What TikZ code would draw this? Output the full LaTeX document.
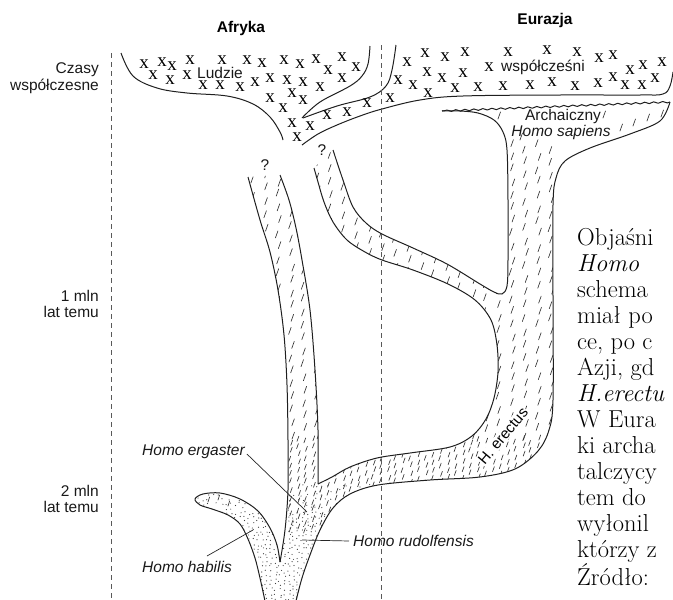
\documentclass[tikz,border=0pt]{standalone}
\usepackage{fontspec}
\newfontfamily\labfont{Liberation Sans}
\newfontfamily\xfont{Liberation Serif}
\usetikzlibrary{decorations.pathmorphing}
\begin{document}
\begin{tikzpicture}[x=1pt,y=-1pt,
  outline/.style={line width=1pt, draw=black!88, line join=round},
  hatch/.style={line width=0.65pt, draw=black!80, line cap=round},
  dotmark/.style={fill=black!75},
  vdash/.style={line width=0.8pt, draw=black!65, dash pattern=on 5pt off 4pt},
  lab/.style={font=\labfont\fontsize{15.5}{16.5}\selectfont, inner sep=0pt, text=black!90},
  labit/.style={font=\labfont\itshape\fontsize{15.5}{16.5}\selectfont, inner sep=0pt, text=black!90},
  titlelab/.style={font=\labfont\bfseries\fontsize{15.5}{17}\selectfont, inner sep=0pt},
  xm/.style={font=\xfont\fontsize{19}{19}\selectfont, inner sep=0pt},
  bodytext/.style={font=\fontsize{24.5}{26}\selectfont, inner sep=0pt, anchor=base west},
  leader/.style={line width=0.7pt, draw=black!85}
]
\useasboundingbox (0,0) rectangle (673,600);
\begin{scope}
\clip (0,0) rectangle (673,600);

% ---------- textures inside the Homo erectus / archaic region ----------
\begin{scope}
\clip plot[smooth,tension=0.55] coordinates {(248,177) (260,220) (270,252) (278,290) (284,335) (287,385) (288,440) (288,490) (285,530) (280,562)}
 -- plot[smooth,tension=0.55] coordinates {(280,562) (277,545) (270,528) (258,511) (240,499) (220,493) (203,494) (195,499) (200,505) (212,509) (228,515) (240,524) (248,539) (255,558) (260,578) (265,601)}
 -- (296,601)
 -- plot[smooth,tension=0.55] coordinates {(296,601) (302,578) (310,555) (320,530) (333,508) (350,494) (378,485) (430,480) (480,477) (515,469) (538,451) (549,430) (553,400) (553,300) (553,205) (556,178) (565,161) (590,148) (630,134) (660,121) (670,102)}
 -- (442,111)
 -- plot[smooth,tension=0.55] coordinates {(442,111) (460,111) (478,113) (494,120) (503,132) (507,150) (508,200) (508,260) (507,286) (502,294) (494,292) (480,284) (447,264) (413,248) (382,234) (366,223) (353,207) (343,180) (333,150)}
 -- (314,168)
 -- plot[smooth,tension=0.55] coordinates {(314,168) (318,182) (324,202) (333,222) (347,240) (365,252) (382,260) (413,270) (448,284) (475,300) (491,320) (497,345) (498,372) (494,398) (486,419) (472,436) (450,447) (410,453) (377,458) (350,467) (332,477) (318,484)}
 -- plot[smooth,tension=0.55] coordinates {(318,484) (318,430) (315,370) (310,310) (302,260) (296,228) (289,200) (280,175)}
 -- cycle;
\pgfmathsetseed{3}
% regular slashes
\foreach \gx [count=\ci] in {238,251,...,562}{
  \foreach \gy in {146,159,...,432}{
    \pgfmathsetmacro{\rx}{\gx+2*rand}
    \pgfmathsetmacro{\ry}{\gy+6.5*mod(\ci,2)+2*rand}
    \draw[hatch] (\rx,\ry) -- ++(2.5,-7);
  }
}
% dense short slashes (horizontal branch, ergaster)
\foreach \gx [count=\ci] in {290,297.5,...,560}{
  \foreach \gy in {440,448,...,530}{
    \pgfmathsetmacro{\rx}{\gx+1.5*rand}
    \pgfmathsetmacro{\ry}{\gy+4*mod(\ci,2)+1.5*rand}
    \draw[hatch] (\rx,\ry) -- ++(1.8,-5);
  }
}
% stipple
\foreach \gx in {190,194.5,...,400}{
  \foreach \gy in {486,490.5,...,600}{
    \pgfmathtruncatemacro{\keep}{((\gy>512) || (rnd<0.4)) ? 1 : 0}
    \ifnum\keep=1
      \pgfmathsetmacro{\rx}{\gx+1.6*rand}
      \pgfmathsetmacro{\ry}{\gy+1.6*rand}
      \fill[dotmark] (\rx,\ry) circle[radius=0.6];
    \fi
  }
}
% sparse slashes in the archaic band and at the habilis tip
\foreach \p in {(498,119),(603,118),(620,131),(633,126),(647,121),(661,117),(520,140)}
  \draw[hatch] \p -- ++(2.5,-7);
\foreach \p in {(208,502),(218,500),(228,506)}
  \draw[hatch] \p -- ++(1.6,-5);
\end{scope}

% ---------- outlines ----------
\draw[outline] plot[smooth,tension=0.55] coordinates {(248,177) (260,220) (270,252) (278,290) (284,335) (287,385) (288,440) (288,490) (285,530) (280,562)};
\draw[outline] plot[smooth,tension=0.55] coordinates {(280,562) (277,545) (270,528) (258,511) (240,499) (220,493) (203,494) (195,499) (200,505) (212,509) (228,515) (240,524) (248,539) (255,558) (260,578) (265,601)};
\draw[outline] plot[smooth,tension=0.55] coordinates {(296,601) (302,578) (310,555) (320,530) (333,508) (350,494) (378,485) (430,480) (480,477) (515,469) (538,451) (549,430) (553,400) (553,300) (553,205) (556,178) (565,161) (590,148) (630,134) (660,121) (670,102)};
\draw[outline, decorate, decoration={snake, amplitude=0.8pt, segment length=9pt}] (670,102) -- (442,111);
\draw[outline] plot[smooth,tension=0.55] coordinates {(442,111) (460,111) (478,113) (494,120) (503,132) (507,150) (508,200) (508,260) (507,286) (502,294) (494,292) (480,284) (447,264) (413,248) (382,234) (366,223) (353,207) (343,180) (333,150)};
\draw[outline] plot[smooth,tension=0.55] coordinates {(314,168) (318,182) (324,202) (333,222) (347,240) (365,252) (382,260) (413,270) (448,284) (475,300) (491,320) (497,345) (498,372) (494,398) (486,419) (472,436) (450,447) (410,453) (377,458) (350,467) (332,477) (318,484)};
\draw[outline] plot[smooth,tension=0.55] coordinates {(318,484) (318,430) (315,370) (310,310) (302,260) (296,228) (289,200) (280,175)};

% modern humans
\draw[outline] plot[smooth,tension=0.6] coordinates {(121,53) (133,76) (157,88) (187,93) (227,96) (253,104) (270,117) (280,132) (283,140)};
\draw[outline] plot[smooth,tension=0.6] coordinates {(370,46) (368,64) (362,76) (350,86) (320,102) (302,118)};
\draw[outline] plot[smooth,tension=0.6] coordinates {(396,45) (392,70) (386,86) (370,97) (337,106) (303,118)};
\draw[outline] plot[smooth,tension=0.6] coordinates {(302,145) (318,134) (337,125) (360,116) (382,109) (420,100) (463,96) (560,95) (640,95) (663,94) (670,86) (673,72)};

% dashed region borders
\coordinate (dl1) at (111,53); \coordinate (dl2) at (111,600);
\coordinate (dm1) at (381,45); \coordinate (dm2) at (381,600);
\draw[vdash] (dl1) -- (dl2);
\draw[vdash] (dm1) -- (dm2);

% x marks
\foreach \p [count=\i] in {(144,64),(162,62),(172,66),(190,60),(222,60),(247,60),(262,63),(284,60),(300,64),(316,59),(342,57),(356,67),
 (153,75),(170,80),(187,75),(328,70),(342,78),
 (203,85),(220,85),(240,87),(255,82),(270,78),(287,80),(303,82),(320,87),
 (270,98),(292,93),(303,100),(283,108),(292,123),(310,126),(297,137),
 (327,115),(347,112),(367,103),(390,98),
 (407,62),(425,53),(445,57),(465,52),(508,52),(547,50),(577,52),(599,58),(613,55),(630,70),(643,65),(662,62),
 (398,80),(413,85),(427,72),(442,78),(463,73),(489,67),
 (428,93),(455,88),(478,87),(503,86),(530,85),(552,82),(575,86),(598,83),(613,77),(625,85),(642,85),(655,78)}
  \node[xm] (xx\i) at \p {x};

% labels
\node[titlelab] (afr) at (241,28) {Afryka};
\node[titlelab] (eur) at (545,20) {Eurazja};
\node[lab, anchor=east, align=right] (czasy) at (99,78) {Czasy\\współczesne};
\node[lab, anchor=east, align=right] (mln1) at (99,304) {1 mln\\lat temu};
\node[lab, anchor=east, align=right] (mln2) at (99,499) {2 mln\\lat temu};
\node[lab] (ludzie) at (220,73) {Ludzie};
\node[lab] (wspol) at (543,67) {współcześni};
\node[lab] (arch) at (563,116) {Archaiczny};
\node[labit] (hsap) at (561,132) {Homo sapiens};
\node[lab] (q1) at (265,165) {?};
\node[lab] (q2) at (322,150) {?};
\node[font=\labfont\fontsize{15}{16}\selectfont, fill=white, inner sep=0.8pt, rotate=50] (herec) at (503,436) {H. erectus};

\node[labit, anchor=west] (erg) at (142,452) {Homo ergaster};
\coordinate (ergP) at (307,512);
\draw[leader] (erg.east) ++(2,2) -- (ergP);
\node[labit, anchor=west] (hab) at (142,567) {Homo habilis};
\coordinate (habS) at (207,556);
\coordinate (habP) at (253,530);
\draw[leader] (habS) -- (habP);
\node[labit, anchor=west] (rud) at (353,541) {Homo rudolfensis};
\coordinate (rudP) at (302,540);
\draw[leader] (rud.west) ++(-4,0) -- (rudP);

% text column (cut at the right edge)
\node[bodytext] (t1) at (577,245) {Objaśni};
\node[bodytext] (t2) at (577,271) {\textit{Homo}};
\node[bodytext] (t3) at (577,297) {schema};
\node[bodytext] (t4) at (577,323) {miał po};
\node[bodytext] (t5) at (577,349) {ce, po c};
\node[bodytext] (t6) at (577,375) {Azji, gd};
\node[bodytext] (t7) at (577,401) {\textit{H.erectu}};
\node[bodytext] (t8) at (577,427) {W Eura};
\node[bodytext] (t9) at (577,453) {ki archa};
\node[bodytext] (t10) at (577,479) {talczycy};
\node[bodytext] (t11) at (577,505) {tem do};
\node[bodytext] (t12) at (577,531) {wyłonil};
\node[bodytext] (t13) at (577,557) {którzy z};
\node[bodytext] (t14) at (577,585) {Źródło:};
\end{scope}
\end{tikzpicture}
\end{document}
